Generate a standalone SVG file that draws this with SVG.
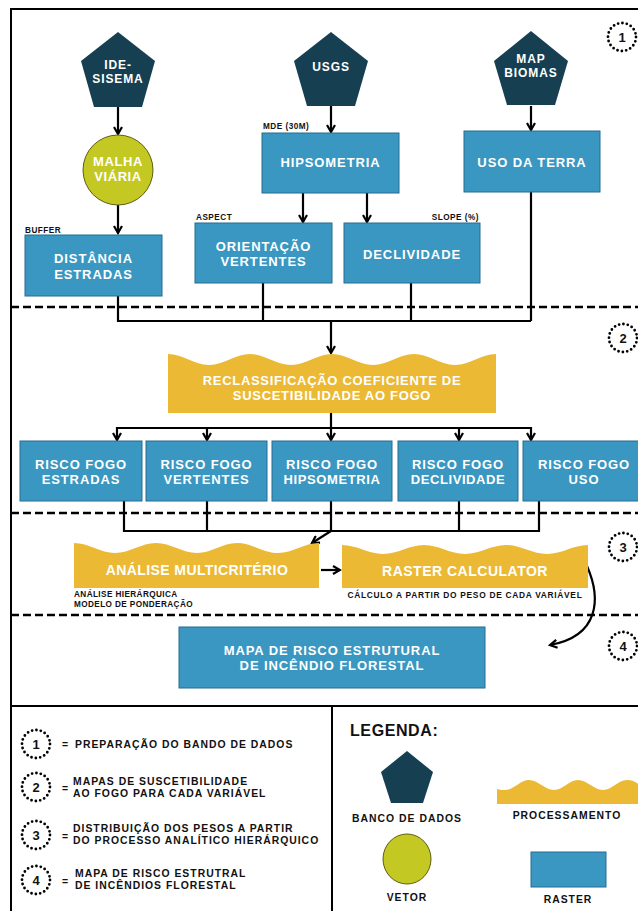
<svg xmlns="http://www.w3.org/2000/svg" width="638" height="911" viewBox="0 0 638 911">
<defs>
<style>
.t{font-family:"Liberation Sans",Arial,sans-serif;font-weight:700;fill:#fff;text-anchor:middle;letter-spacing:0.9px}
.big{font-size:13px}
.pt{font-size:12px}
.s{font-family:"Liberation Sans",Arial,sans-serif;font-weight:700;fill:#111;font-size:8.2px;letter-spacing:0.5px}
.lg{font-family:"Liberation Sans",Arial,sans-serif;font-weight:700;fill:#111;font-size:10.4px;letter-spacing:1px}
.num{font-family:"Liberation Sans",Arial,sans-serif;font-weight:700;fill:#111;font-size:13px;text-anchor:middle}
.box{fill:#3a97c1;stroke:#256c90;stroke-width:1}
.pent{fill:#163f52}
.wave{fill:#ebb934}
.veg{fill:#c4c823;stroke:#5d5e10;stroke-width:1}
.ln{fill:none;stroke:#000;stroke-width:2.2}
.dash{fill:none;stroke:#000;stroke-width:2.4;stroke-dasharray:8 4}
.dot{fill:none;stroke:#000;stroke-width:2.8;stroke-dasharray:0 4.4;stroke-linecap:round}
.frame{fill:none;stroke:#000;stroke-width:2}
</style>
<marker id="ah" viewBox="0 0 10 10" refX="8" refY="5" markerWidth="10" markerHeight="10" markerUnits="userSpaceOnUse" orient="auto">
<path d="M1,1 L8,5 L1,9" fill="none" stroke="#000" stroke-width="2.2"/>
</marker>
</defs>

<g id="frame">
<rect class="frame" x="11" y="9" width="640" height="910"/>
<line class="frame" x1="11" y1="706" x2="638" y2="706"/>
<line class="frame" x1="332" y1="706" x2="332" y2="911"/>
<line class="dash" x1="11" y1="307" x2="638" y2="307"/>
<line class="dash" x1="11" y1="513" x2="638" y2="513"/>
<line class="dash" x1="11" y1="615" x2="638" y2="615"/>
</g>

<g id="connectors">
<line class="ln" x1="118" y1="107" x2="118" y2="134" marker-end="url(#ah)"/>
<line class="ln" x1="118" y1="205" x2="118" y2="233" marker-end="url(#ah)"/>
<line class="ln" x1="331" y1="106" x2="331" y2="132" marker-end="url(#ah)"/>
<line class="ln" x1="531" y1="106" x2="531" y2="130" marker-end="url(#ah)"/>
<line class="ln" x1="303" y1="193" x2="303" y2="222" marker-end="url(#ah)"/>
<line class="ln" x1="367" y1="193" x2="367" y2="222" marker-end="url(#ah)"/>
<polyline class="ln" points="118,296 118,321 531,321"/>
<line class="ln" x1="263" y1="283" x2="263" y2="321"/>
<line class="ln" x1="411" y1="283" x2="411" y2="321"/>
<line class="ln" x1="531" y1="192" x2="531" y2="321"/>
<line class="ln" x1="331" y1="321" x2="331" y2="353" marker-end="url(#ah)"/>
<line class="ln" x1="331" y1="413" x2="331" y2="428"/>
<line class="ln" x1="117" y1="428" x2="531" y2="428"/>
<line class="ln" x1="117" y1="427" x2="117" y2="440" marker-end="url(#ah)"/>
<line class="ln" x1="207" y1="427" x2="207" y2="440" marker-end="url(#ah)"/>
<line class="ln" x1="331" y1="427" x2="331" y2="440" marker-end="url(#ah)"/>
<line class="ln" x1="459" y1="427" x2="459" y2="440" marker-end="url(#ah)"/>
<line class="ln" x1="531" y1="427" x2="531" y2="440" marker-end="url(#ah)"/>
<polyline class="ln" points="124,501 124,531 539,531 539,501"/>
<line class="ln" x1="207" y1="501" x2="207" y2="531"/>
<line class="ln" x1="331" y1="501" x2="331" y2="531"/>
<line class="ln" x1="459" y1="501" x2="459" y2="531"/>
<line class="ln" x1="331" y1="531" x2="312" y2="543" marker-end="url(#ah)"/>
<line class="ln" x1="321" y1="570" x2="340" y2="570" marker-end="url(#ah)"/>
<path class="ln" d="M587,566 C601,598 600,636 550,645" marker-end="url(#ah)"/>
</g>

<g id="ide-sisema">
<polygon class="pent" points="118,32 155,61 142,107 94,107 81,61"/>
<text class="t pt" x="118" y="69">IDE-</text>
<text class="t pt" x="118" y="83">SISEMA</text>
</g>
<g id="usgs">
<polygon class="pent" points="331,32 368,61 355,106 307,106 294,61"/>
<text class="t pt" x="331" y="71">USGS</text>
</g>
<g id="mapbiomas">
<polygon class="pent" points="531,31 568,61 555,105 507,105 494,61"/>
<text class="t pt" x="531" y="63">MAP</text>
<text class="t pt" x="531" y="77">BIOMAS</text>
</g>

<g id="malha-viaria">
<circle class="veg" cx="118" cy="170" r="35"/>
<text class="t big" x="118" y="166" style="letter-spacing:0.6px">MALHA</text>
<text class="t big" x="118" y="181" style="letter-spacing:0.6px">VIÁRIA</text>
</g>

<g id="distancia-estradas">
<text class="s" x="25" y="233">BUFFER</text>
<rect class="box" x="25" y="235" width="137" height="61"/>
<text class="t big" x="93.5" y="263">DISTÂNCIA</text>
<text class="t big" x="93.5" y="279">ESTRADAS</text>
</g>

<g id="hipsometria">
<text class="s" x="263" y="129">MDE (30M)</text>
<rect class="box" x="262" y="133" width="137" height="60"/>
<text class="t big" x="330.5" y="167">HIPSOMETRIA</text>
</g>

<g id="uso-da-terra">
<rect class="box" x="464" y="131" width="136" height="61"/>
<text class="t big" x="532" y="167">USO DA TERRA</text>
</g>

<g id="orientacao-vertentes">
<text class="s" x="196" y="220">ASPECT</text>
<rect class="box" x="195" y="223" width="137" height="60"/>
<text class="t big" x="263.5" y="251">ORIENTAÇÃO</text>
<text class="t big" x="263.5" y="266">VERTENTES</text>
</g>

<g id="declividade">
<text class="s" x="479" y="220" text-anchor="end">SLOPE (%)</text>
<rect class="box" x="344" y="223" width="136" height="60"/>
<text class="t big" x="412" y="259">DECLIVIDADE</text>
</g>

<g id="reclassificacao">
<path class="wave" d="M168,354 C183,354 194,365 209,365 C224,365 235,354 250,354 C265,354 276,365 291,365 C306,365 317,354 332,354 C347,354 358,365 373,365 C388,365 399,354 414,354 C429,354 440,365 455,365 C470,365 481,354 496,354 L496,413 L168,413 Z"/>
<text class="t big" x="332" y="385" style="letter-spacing:0.7px">RECLASSIFICAÇÃO COEFICIENTE DE</text>
<text class="t big" x="332" y="400" style="letter-spacing:0.7px">SUSCETIBILIDADE AO FOGO</text>
</g>

<g id="risco-estradas">
<rect class="box" x="20" y="441" width="122" height="60"/>
<text class="t big" x="81" y="469">RISCO FOGO</text>
<text class="t big" x="81" y="484">ESTRADAS</text>
</g>
<g id="risco-vertentes">
<rect class="box" x="146" y="441" width="121" height="60"/>
<text class="t big" x="206.5" y="469">RISCO FOGO</text>
<text class="t big" x="206.5" y="484">VERTENTES</text>
</g>
<g id="risco-hipsometria">
<rect class="box" x="272" y="441" width="120" height="60"/>
<text class="t big" x="332" y="469">RISCO FOGO</text>
<text class="t big" x="332" y="484" style="letter-spacing:0.6px">HIPSOMETRIA</text>
</g>
<g id="risco-declividade">
<rect class="box" x="398" y="441" width="120" height="60"/>
<text class="t big" x="458" y="469">RISCO FOGO</text>
<text class="t big" x="458" y="484" style="letter-spacing:0.6px">DECLIVIDADE</text>
</g>
<g id="risco-uso">
<rect class="box" x="523" y="441" width="122" height="60"/>
<text class="t big" x="584" y="469">RISCO FOGO</text>
<text class="t big" x="584" y="484">USO</text>
</g>

<g id="analise-multicriterio">
<path class="wave" d="M74,543 C89,543 100,553 115,553 C130,553 141,543 156,543 C171,543 182,553 197,553 C212,553 222,543 237,543 C252,543 263,553 278,553 C293,553 304,543 319,543 L319,588 L74,588 Z"/>
<text class="t" x="197" y="575" style="font-size:14px;letter-spacing:0.4px">ANÁLISE MULTICRITÉRIO</text>
<text class="s" x="74" y="597" style="letter-spacing:0.4px">ANÁLISE HIERÁRQUICA</text>
<text class="s" x="74" y="607" style="letter-spacing:0.4px">MODELO DE PONDERAÇÃO</text>
</g>

<g id="raster-calculator">
<path class="wave" d="M342,545 C357,545 368,554 383,554 C398,554 409,545 424,545 C439,545 450,554 465,554 C480,554 491,545 506,545 C521,545 532,554 547,554 C562,554 573,545 588,545 L588,588 L342,588 Z"/>
<text class="t" x="465" y="576" style="font-size:14px;letter-spacing:0.5px">RASTER CALCULATOR</text>
<text class="s" x="465" y="598" text-anchor="middle" style="font-size:8.4px;letter-spacing:0.7px">CÁLCULO A PARTIR DO PESO DE CADA VARIÁVEL</text>
</g>

<g id="mapa-risco">
<rect class="box" x="179" y="627" width="306" height="61"/>
<text class="t big" x="332" y="655">MAPA DE RISCO ESTRUTURAL</text>
<text class="t big" x="332" y="670">DE INCÊNDIO FLORESTAL</text>
</g>

<g id="etapa-1"><circle class="dot" cx="622" cy="37" r="14"/><text class="num" x="622" y="42">1</text></g>
<g id="etapa-2"><circle class="dot" cx="623" cy="338" r="14"/><text class="num" x="623" y="343">2</text></g>
<g id="etapa-3"><circle class="dot" cx="623" cy="547" r="14"/><text class="num" x="623" y="552">3</text></g>
<g id="etapa-4"><circle class="dot" cx="623" cy="646" r="14"/><text class="num" x="623" y="651">4</text></g>

<g id="legenda-etapas">
<circle class="dot" cx="36" cy="744" r="14"/><text class="num" x="36" y="749">1</text>
<text class="lg" x="62" y="748">=</text><text class="lg" x="75" y="748">PREPARAÇÃO DO BANDO DE DADOS</text>
<circle class="dot" cx="36" cy="787" r="14"/><text class="num" x="36" y="792">2</text>
<text class="lg" x="62" y="792">=</text><text class="lg" x="73" y="785">MAPAS DE SUSCETIBILIDADE</text><text class="lg" x="73" y="797">AO FOGO PARA CADA VARIÁVEL</text>
<circle class="dot" cx="36" cy="835" r="14"/><text class="num" x="36" y="840">3</text>
<text class="lg" x="62" y="840">=</text><text class="lg" x="73" y="832">DISTRIBUIÇÃO DOS PESOS A PARTIR</text><text class="lg" x="73" y="844">DO PROCESSO ANALÍTICO HIERÁRQUICO</text>
<circle class="dot" cx="36" cy="880" r="14"/><text class="num" x="36" y="885">4</text>
<text class="lg" x="62" y="885">=</text><text class="lg" x="75" y="877">MAPA DE RISCO ESTRUTRAL</text><text class="lg" x="75" y="889">DE INCÊNDIOS FLORESTAL</text>
</g>

<g id="legenda">
<text class="lg" x="350" y="736" style="font-size:16px;letter-spacing:0.6px">LEGENDA:</text>
<polygon class="pent" points="407,751 433,772 423,803 391,803 381,772"/>
<text class="lg" x="407" y="822" text-anchor="middle">BANCO DE DADOS</text>
<path class="wave" d="M497,789 C500,790 502,790 505,790 C514,790 520,780 529,780 C538,780 545,790 554,790 C563,790 569,780 578,780 C587,780 594,790 603,790 C612,790 618,780 627,780 C636,780 640,786 645,790 L645,804 L497,804 Z"/>
<text class="lg" x="567" y="819" text-anchor="middle">PROCESSAMENTO</text>
<ellipse class="veg" cx="407" cy="859" rx="24" ry="25"/>
<text class="lg" x="407" y="901" text-anchor="middle">VETOR</text>
<rect class="box" x="531" y="852" width="75" height="35"/>
<text class="lg" x="568" y="903" text-anchor="middle">RASTER</text>
</g>
</svg>
